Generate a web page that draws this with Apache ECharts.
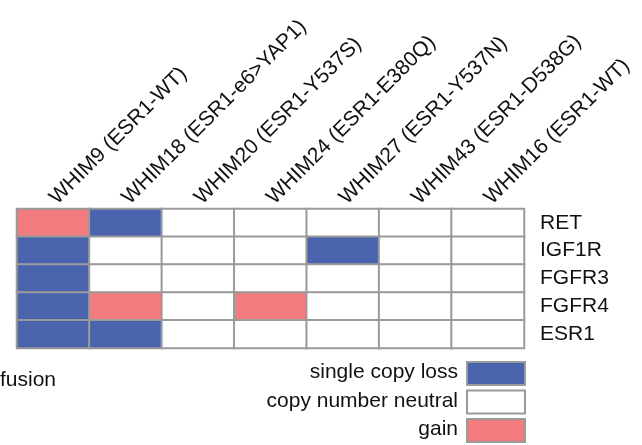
<!DOCTYPE html>
<html>
<head>
<meta charset="utf-8">
<script src="https://cdn.jsdelivr.net/npm/echarts@6/dist/echarts.min.js"></script>
<style>html,body{margin:0;padding:0;background:#fff}#c{width:642px;height:445px}</style>
</head>
<body>
<div id="c"></div>
<script>
var samples = ["WHIM9 (ESR1-WT)","WHIM18 (ESR1-e6>YAP1)","WHIM20 (ESR1-Y537S)","WHIM24 (ESR1-E380Q)","WHIM27 (ESR1-Y537N)","WHIM43 (ESR1-D538G)","WHIM16 (ESR1-WT)"];
var genes = ["RET","IGF1R","FGFR3","FGFR4","ESR1"];
// -1 = single copy loss, 0 = copy number neutral, 1 = gain ; one array per gene, across samples
var RET   = [1,-1,0,0,0,0,0];
var IGF1R = [-1,0,0,0,-1,0,0];
var FGFR3 = [-1,0,0,0,0,0,0];
var FGFR4 = [-1,1,0,1,0,0,0];
var ESR1  = [-1,-1,0,0,0,0,0];
var legendLabels = ["single copy loss","copy number neutral","gain"];
var legendValues = [-1,0,1];
var extraText = "fusion";

var rows = [RET,IGF1R,FGFR3,FGFR4,ESR1];
var colors = {"-1":"#4a63ad","0":"#ffffff","1":"#f27b7e"};
var data = [];
rows.forEach(function(r,gi){ r.forEach(function(v,si){ data.push([si,gi,v]); }); });

var FS = 21;
var FONT = '"Liberation Sans", Arial, sans-serif';
var graphic = [];
legendLabels.forEach(function(t,i){
  var y = 361 + i*28.5;
  graphic.push({type:'rect',left:466,top:y,shape:{width:58,height:23},style:{fill:colors[String(legendValues[i])],stroke:'#9a9a9a',lineWidth:2}});
  graphic.push({type:'text',right:642-458,top:y+1,style:{text:t,font:FS+'px '+FONT,fill:'#111',textAlign:'right'}});
});
graphic.push({type:'text',left:0,top:370,style:{text:extraText,font:FS+'px '+FONT,fill:'#111'}});

var chart = echarts.init(document.getElementById('c'),null,{renderer:'canvas'});
chart.setOption({
  animation:false,
  backgroundColor:'#fff',
  grid:{left:17,right:118,top:209,bottom:97,containLabel:false,outerBoundsMode:'none'},
  xAxis:{type:'category',data:samples,position:'top',
    axisLine:{show:false},axisTick:{show:false},splitLine:{show:false},
    axisLabel:{rotate:-45,margin:8,interval:0,fontSize:FS,color:'#111',fontFamily:FONT}},
  yAxis:{type:'category',data:genes,inverse:true,position:'right',
    axisLine:{show:false},axisTick:{show:false},splitLine:{show:false},
    axisLabel:{margin:16,fontSize:FS,color:'#111',fontFamily:FONT}},
  visualMap:{show:false,type:'piecewise',dimension:2,
    pieces:legendValues.map(function(v){return {value:v,color:colors[String(v)]};})},
  series:[{type:'heatmap',data:data,itemStyle:{borderColor:'#9a9a9a',borderWidth:2},emphasis:{disabled:true}}],
  graphic:graphic
});
</script>
</body>
</html>
